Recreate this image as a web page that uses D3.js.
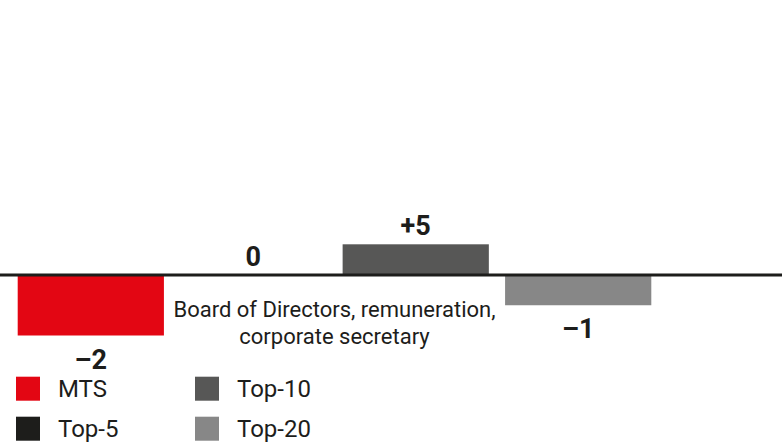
<!DOCTYPE html>
<html>
<head>
<meta charset="utf-8">
<script src="https://cdn.jsdelivr.net/npm/d3@7"></script>
<style>
  html, body { margin: 0; padding: 0; background: #fff; }
  svg { display: block; font-family: Roboto, "Noto Sans", sans-serif; }
</style>
</head>
<body>
<svg id="chart" width="782" height="442"></svg>
<script>
  var categoryLabel = ["Board of Directors, remuneration,", "corporate secretary"];
  var series = ["MTS", "Top-5", "Top-10", "Top-20"];
  var values = [-2, 0, 5, -1];
  var valueLabels = ["\u20132", "0", "+5", "\u20131"];
  var colors = ["#e30613", "#1d1d1b", "#575756", "#878787"];

  var W = 782, H = 442;
  var ink = "#1d1d1b";
  var svg = d3.select("#chart");

  var x = d3.scaleBand()
    .domain(series)
    .range([17.7, 651.3])
    .paddingInner(0.1)
    .paddingOuter(0);

  // the source chart does not scale positive and negative bars alike
  var y = d3.scaleLinear()
    .domain([-2, 0, 5])
    .range([335.5, 275, 244.3]);

  var rows = series.map(function (s, i) {
    return { name: s, value: values[i], label: valueLabels[i], color: colors[i] };
  });

  svg.append("g").selectAll("rect")
    .data(rows.filter(function (d) { return d.value !== 0; }))
    .join("rect")
    .attr("x", function (d) { return x(d.name); })
    .attr("width", x.bandwidth())
    .attr("y", function (d) { return Math.min(y(d.value), y(0)); })
    .attr("height", function (d) { return Math.abs(y(d.value) - y(0)); })
    .attr("fill", function (d) { return d.color; });

  svg.append("line")
    .attr("x1", 0).attr("x2", W)
    .attr("y1", y(0)).attr("y2", y(0))
    .attr("stroke", ink)
    .attr("stroke-width", 3);

  svg.append("g").selectAll("text")
    .data(rows)
    .join("text")
    .attr("x", function (d) { return x(d.name) + x.bandwidth() / 2; })
    .attr("y", function (d) { return d.value < 0 ? y(d.value) + 33 : y(d.value) - 9; })
    .attr("text-anchor", "middle")
    .attr("font-size", 27)
    .attr("font-weight", 700)
    .attr("fill", ink)
    .text(function (d) { return d.label; });

  var mid = (x.range()[0] + x.range()[1]) / 2;
  svg.append("text")
    .attr("x", mid)
    .attr("y", 317.3)
    .attr("text-anchor", "middle")
    .attr("font-size", 22)
    .attr("fill", ink)
    .selectAll("tspan")
    .data(categoryLabel)
    .join("tspan")
    .attr("x", mid)
    .attr("dy", function (d, i) { return i ? 27 : 0; })
    .text(function (d) { return d; });

  var legend = svg.append("g").selectAll("g")
    .data(rows)
    .join("g")
    .attr("transform", function (d, i) {
      return "translate(" + (16 + Math.floor(i / 2) * 179) + "," + (376.7 + (i % 2) * 40) + ")";
    });

  legend.append("rect")
    .attr("width", 24)
    .attr("height", 24)
    .attr("fill", function (d) { return d.color; });

  legend.append("text")
    .attr("x", 42)
    .attr("y", 20.6)
    .attr("font-size", 24)
    .attr("fill", ink)
    .text(function (d) { return d.name; });
</script>
</body>
</html>
